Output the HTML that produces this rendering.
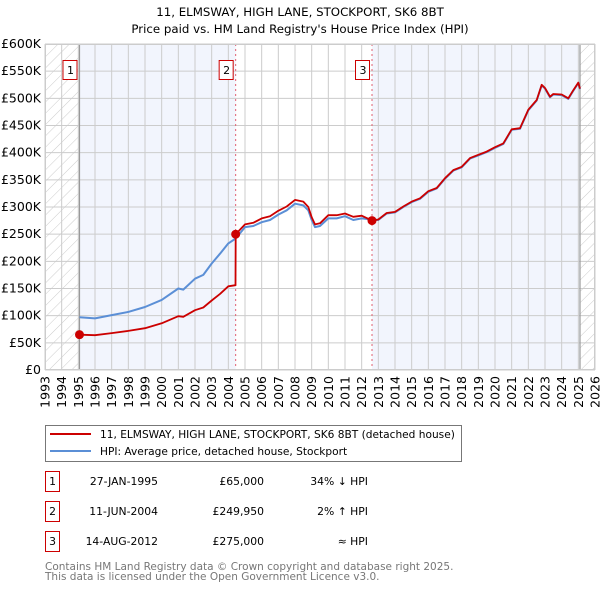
<!DOCTYPE html>
<html><head><meta charset="utf-8"><style>
body{margin:0;background:#fff;width:600px;height:590px;overflow:hidden;font-family:"DejaVu Sans","Liberation Sans",sans-serif;}
svg{display:block}
</style></head><body>
<svg id="chart" width="600" height="590" viewBox="0 0 600 590" xmlns="http://www.w3.org/2000/svg" font-family="DejaVu Sans, Liberation Sans, sans-serif">
<defs>
<pattern id="hatch" patternUnits="userSpaceOnUse" width="8" height="8" patternTransform="rotate(45)">
<line x1="0" y1="0" x2="0" y2="8" stroke="#ccc" stroke-width="1"/></pattern>
</defs>
<text x="300" y="16" text-anchor="middle" font-size="11.8">11, ELMSWAY, HIGH LANE, STOCKPORT, SK6 8BT</text>
<text x="300" y="33" text-anchor="middle" font-size="11.8">Price paid vs. HM Land Registry's House Price Index (HPI)</text>
<g id="plot"></g>
<g id="legend">
<rect x="45.5" y="425.5" width="416" height="36" fill="#fff" stroke="#777"/>
<line x1="50" y1="434" x2="91" y2="434" stroke="#cc0000" stroke-width="2"/>
<text x="100" y="438" font-size="10.6">11, ELMSWAY, HIGH LANE, STOCKPORT, SK6 8BT (detached house)</text>
<line x1="50" y1="451" x2="91" y2="451" stroke="#5b8fd6" stroke-width="2"/>
<text x="100" y="455" font-size="10.6">HPI: Average price, detached house, Stockport</text>
</g>
<g id="table" font-size="10.8"></g>
<text x="45" y="570" font-size="10.5" fill="#777">Contains HM Land Registry data © Crown copyright and database right 2025.</text>
<text x="45" y="580" font-size="10.5" fill="#777">This data is licensed under the Open Government Licence v3.0.</text>
</svg>
<script>
const hpiYears=[1995.07,1996,1997,1998,1999,2000,2001,2001.3,2002,2002.5,2003,2003.5,2004,2004.44,2005,2005.5,2006,2006.5,2007,2007.5,2008,2008.5,2008.8,2009,2009.2,2009.5,2010,2010.5,2011,2011.5,2012,2012.62,2013,2013.5,2014,2014.5,2015,2015.5,2016,2016.5,2017,2017.5,2018,2018.5,2019,2019.5,2020,2020.5,2021,2021.5,2022,2022.5,2022.8,2023,2023.3,2023.5,2024,2024.4,2024.7,2025,2025.1];
const hpiValues=[97,95,101,107,116,129,150,148,168,175,196,214,233,242,263,265,272,276,286,294,306,303,294,276,263,265,279,279,283,276,279,277,276,288,290,300,309,315,328,334,352,367,373,389,395,401,409,416,442,444,478,496,524,518,502,507,506,499,514,528,517];
const priceYears=[1995.07,1996,1997,1998,1999,2000,2001,2001.3,2002,2002.5,2003,2003.5,2004,2004.43,2004.44,2005,2005.5,2006,2006.5,2007,2007.5,2008,2008.5,2008.8,2009,2009.2,2009.5,2010,2010.5,2011,2011.5,2012,2012.62,2013,2013.5,2014,2014.5,2015,2015.5,2016,2016.5,2017,2017.5,2018,2018.5,2019,2019.5,2020,2020.5,2021,2021.5,2022,2022.5,2022.8,2023,2023.3,2023.5,2024,2024.4,2024.7,2025,2025.1];
const priceValues=[65,64,68,72,77,86,99,98,110,115,128,140,154,156,250,268,271,279,283,293,301,313,310,300,281,268,270,285,285,288,282,284,275,277,289,291,301,310,316,329,335,353,368,374,390,396,402,410,417,443,445,479,497,525,519,503,508,507,500,515,529,518];
const saleYears=[1995.07,2004.44,2012.62];
const saleValues=[65,249.95,275];
const saleLabels=["1","2","3"];
const saleDates=["27-JAN-1995","11-JUN-2004","14-AUG-2012"];
const salePrices=["£65,000","£249,950","£275,000"];
const saleHpi=["34% ↓ HPI","2% ↑ HPI","≈ HPI"];
const yTicks=[0,50,100,150,200,250,300,350,400,450,500,550,600];
const yTickLabels=["£0","£50K","£100K","£150K","£200K","£250K","£300K","£350K","£400K","£450K","£500K","£550K","£600K"];
const xTicks=[1993,1994,1995,1996,1997,1998,1999,2000,2001,2002,2003,2004,2005,2006,2007,2008,2009,2010,2011,2012,2013,2014,2015,2016,2017,2018,2019,2020,2021,2022,2023,2024,2025,2026];
const dataEnd=2025.1;

const L=45,R=595,T=44,B=370,X0=1993,X1=2026,YMAX=600;
const xs=v=>L+(v-X0)/(X1-X0)*(R-L);
const ys=v=>B-v/YMAX*(B-T);
const NS="http://www.w3.org/2000/svg";
const plot=document.getElementById('plot');
function mk(tag,attrs,parent){const e=document.createElementNS(NS,tag);for(const k in attrs)e.setAttribute(k,attrs[k]);(parent||plot).appendChild(e);return e;}

let e;
e=mk('rect',{x:L,y:T,width:R-L,height:B-T,fill:'#fff'});


e=mk('rect',{x:xs(saleYears[0]),y:T,width:xs(saleYears[1])-xs(saleYears[0]),height:B-T,fill:'#f2f5fd'});


e=mk('rect',{x:xs(saleYears[2]),y:T,width:xs(dataEnd)-xs(saleYears[2]),height:B-T,fill:'#f2f5fd'});


e=mk('rect',{x:L,y:T,width:xs(saleYears[0])-L,height:B-T,fill:'url(#hatch)'});


e=mk('rect',{x:xs(dataEnd),y:T,width:R-xs(dataEnd),height:B-T,fill:'url(#hatch)'});



yTicks.forEach((v,i)=>{
 const g=mk('line',{x1:L,x2:R,y1:ys(v),y2:ys(v),stroke:'#ccc','stroke-width':1});
 
 
 const t=mk('text',{x:L-4,y:ys(v)+4,'text-anchor':'end','font-size':12.5});
 t.textContent=yTickLabels[i];
 
 
});
xTicks.forEach(v=>{
 const g=mk('line',{x1:xs(v),x2:xs(v),y1:T,y2:B,stroke:'#ccc','stroke-width':1});
 
 
 const t=mk('text',{x:0,y:0,'text-anchor':'end','font-size':12.5,transform:`translate(${xs(v)+4.5},376) rotate(-90)`});
 t.textContent=v;
 
 
});
e=mk('line',{x1:xs(saleYears[0]),x2:xs(saleYears[0]),y1:T,y2:B,stroke:'#999','stroke-width':1.2});


e=mk('line',{x1:xs(dataEnd),x2:xs(dataEnd),y1:T,y2:B,stroke:'#999','stroke-width':1.2});


[1,2].forEach(i=>{
 const d=mk('line',{x1:xs(saleYears[i]),x2:xs(saleYears[i]),y1:T,y2:B,stroke:'#e06070','stroke-width':1,'stroke-dasharray':'2,3'});
 
 
});

const pts=(xa,ya)=>xa.map((x,i)=>xs(x).toFixed(1)+','+ys(ya[i]).toFixed(1)).join(' ');
e=mk('polyline',{points:pts(hpiYears,hpiValues),fill:'none',stroke:'#5b8fd6','stroke-width':2,'stroke-linejoin':'round'});


e=mk('polyline',{points:pts(priceYears,priceValues),fill:'none',stroke:'#cc0000','stroke-width':1.8,'stroke-linejoin':'round'});



saleYears.forEach((yr,i)=>{
 const c=mk('circle',{cx:xs(yr),cy:ys(saleValues[i]),r:4.5,fill:'#cc0000'});
 
 
 const bx=xs(yr)-9;
 const r=mk('rect',{x:bx-7.5,y:60.5,width:14,height:19,fill:'#fff',stroke:'#cc0000','stroke-width':1});
 
 
 const t=mk('text',{x:bx,y:74,'text-anchor':'middle','font-size':11});
 t.textContent=saleLabels[i];
 
 
});
e=mk('rect',{x:L+0.5,y:T+0.5,width:R-L-1,height:B-T-1,fill:'none',stroke:'#ccc'});



const tbl=document.getElementById('table');
saleLabels.forEach((lab,i)=>{
 const y=484+i*30;
 const r=mk('rect',{x:45.5,y:y-12.5,width:14,height:20,fill:'#fff',stroke:'#cc0000'},tbl);
 
 
 let t=mk('text',{x:52.5,y:y+1,'text-anchor':'middle'},tbl);t.textContent=lab;
 
 
 t=mk('text',{x:158,y:y+1,'text-anchor':'end'},tbl);t.textContent=saleDates[i];
 
 
 t=mk('text',{x:264,y:y+1,'text-anchor':'end'},tbl);t.textContent=salePrices[i];
 
 
 t=mk('text',{x:368,y:y+1,'text-anchor':'end'},tbl);t.textContent=saleHpi[i];
 
 
});
</script>
</body></html>
